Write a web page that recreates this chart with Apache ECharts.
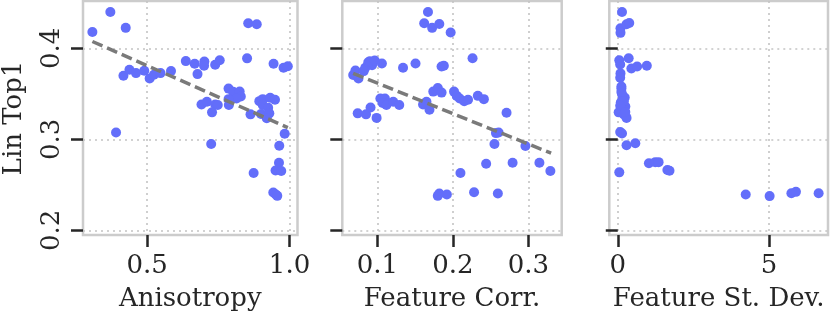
<!DOCTYPE html>
<html>
<head>
<meta charset="utf-8">
<script src="https://cdn.jsdelivr.net/npm/echarts@6/dist/echarts.min.js"></script>
<style>html,body{margin:0;padding:0;background:#fff;}#c{width:830px;height:317px;}</style>
</head>
<body>
<div id="c"></div>
<script>
const yTicks = [0.2, 0.3, 0.4];
const xTicksA = [0.5, 1.0];
const xTicksB = [0.1, 0.2, 0.3];
const xTicksC = [0, 5];
const axisNames = ['Anisotropy', 'Feature Corr.', 'Feature St. Dev.'];
const yName = 'Lin Top1';

const anisoX = [0.308,0.371,0.425,0.855,0.885,0.636,0.667,0.701,0.700,0.739,0.755,0.851,0.944,0.979,0.994,0.417,0.438,0.461,0.490,0.509,0.524,0.547,0.584,0.677,0.786,0.802,0.825,0.829,0.814,0.786,0.691,0.710,0.739,0.748,0.787,0.728,0.863,0.894,0.906,0.932,0.949,0.906,0.925,0.900,0.929,0.920,0.391,0.725,0.983,0.964,0.963,0.951,0.971,0.874,0.943,0.952,0.957];
const anisoY = [0.418,0.440,0.4225,0.4275,0.4264,0.386,0.383,0.3855,0.381,0.382,0.387,0.389,0.383,0.3786,0.3804,0.370,0.3764,0.3728,0.3754,0.367,0.371,0.3728,0.375,0.3717,0.3558,0.3522,0.3525,0.3471,0.3449,0.3442,0.3384,0.3413,0.3384,0.3377,0.3377,0.3297,0.3275,0.342,0.3442,0.3457,0.3435,0.3377,0.3348,0.3279,0.3286,0.3232,0.3076,0.2949,0.3062,0.2931,0.2743,0.2659,0.2652,0.263,0.2417,0.2395,0.238];

const corrX = [0.167,0.162,0.1725,0.182,0.197,0.226,0.068,0.071,0.075,0.082,0.084,0.088,0.093,0.090,0.0965,0.106,0.134,0.1505,0.185,0.188,0.074,0.085,0.091,0.099,0.104,0.110,0.107,0.112,0.121,0.129,0.174,0.180,0.185,0.1605,0.165,0.169,0.2015,0.205,0.209,0.215,0.220,0.233,0.241,0.271,0.257,0.2605,0.255,0.296,0.244,0.279,0.3145,0.329,0.210,0.180,0.182,0.192,0.228,0.2595];
const corrY = [0.4399,0.4275,0.4225,0.4268,0.4174,0.3891,0.3707,0.3757,0.367,0.375,0.3786,0.3848,0.3815,0.3859,0.3866,0.3833,0.3786,0.3833,0.3801,0.3808,0.3286,0.3275,0.3351,0.3236,0.3449,0.3449,0.3399,0.3377,0.3413,0.3377,0.3525,0.3565,0.3514,0.3384,0.3413,0.3326,0.3525,0.3478,0.3449,0.342,0.3435,0.3478,0.3442,0.3293,0.3069,0.3076,0.2949,0.2928,0.2732,0.2743,0.2743,0.2652,0.263,0.238,0.2406,0.2395,0.242,0.2406];

const stdX = [0.14,0.09,0.09,0.29,0.38,0.05,0.08,0.36,0.45,0.64,0.96,0.09,0.08,0.12,0.14,0.16,0.23,0.10,0.25,0.16,0.03,0.20,0.29,0.08,0.14,0.29,0.58,1.03,1.24,1.35,1.64,1.71,0.05,0.12,0.20,0.08,0.25,0.12,4.23,5.02,5.74,5.89,6.64];
const stdY = [0.4399,0.4221,0.417,0.4264,0.4279,0.387,0.3822,0.3891,0.3779,0.3801,0.3808,0.3725,0.3678,0.3558,0.3496,0.3442,0.346,0.3406,0.3362,0.3341,0.3297,0.3275,0.3236,0.308,0.3065,0.2935,0.2957,0.2739,0.275,0.275,0.2663,0.2656,0.2638,0.352,0.342,0.337,0.330,0.358,0.2395,0.2377,0.2409,0.2424,0.2409];

const fitAX = [0.308, 0.994], fitAY = [0.4075, 0.313];
const fitBX = [0.068, 0.330], fitBY = [0.3725, 0.2848];

const FONT = 'DejaVu Serif';
const TXT = '#262626';
const DOT = '#636EFA';
const FS = 26;
const zip = (a, b) => a.map((v, i) => [v, b[i]]);

const grids = [
  {left: 79, top: 1, width: 218.5, height: 236},
  {left: 342.3, top: 1, width: 219.4, height: 236},
  {left: 609.3, top: 1, width: 218.7, height: 236}
];
const xRanges = [[0.275, 1.028], [0.0536, 0.344], [-0.28, 6.95]];
const xTicks = [xTicksA, xTicksB, xTicksC];
const xFmt = [v => v.toFixed(1), v => v.toFixed(1), v => String(v)];

const gridLine = {show: true, lineStyle: {color: '#c4c4c4', width: 1.6, type: [2, 4]}};

const option = {
  animation: false,
  backgroundColor: '#fff',
  grid: grids.map(g => Object.assign({show: true, borderColor: '#cccccc', borderWidth: 2.5, backgroundColor: 'transparent'}, g)),
  xAxis: grids.map((g, i) => ({
    type: 'value', gridIndex: i, min: xRanges[i][0], max: xRanges[i][1],
    name: axisNames[i], nameLocation: 'middle', nameGap: 51,
    nameTextStyle: {fontFamily: FONT, fontSize: FS, color: TXT},
    axisLine: {show: false},
    axisTick: {show: true, length: 12, customValues: xTicks[i], lineStyle: {color: TXT, width: 2.5}},
    axisLabel: {customValues: xTicks[i], fontFamily: FONT, fontSize: FS, color: TXT, margin: 18, formatter: xFmt[i]},
    splitLine: gridLine
  })),
  yAxis: grids.map((g, i) => ({
    type: 'value', gridIndex: i, min: 0.195, max: 0.452,
    name: i === 0 ? yName : '', nameLocation: 'middle', nameGap: 56, nameRotate: 90,
    nameTextStyle: {fontFamily: FONT, fontSize: FS, color: TXT},
    axisLine: {show: false},
    axisTick: {show: true, length: 12, customValues: yTicks, lineStyle: {color: TXT, width: 2.5}},
    axisLabel: {show: i === 0, customValues: yTicks, rotate: 90, fontFamily: FONT, fontSize: FS, color: TXT, margin: 18, formatter: v => v.toFixed(1)},
    splitLine: gridLine
  })),
  series: [
    {type: 'scatter', xAxisIndex: 0, yAxisIndex: 0, data: zip(anisoX, anisoY), symbolSize: 10, itemStyle: {color: DOT, opacity: 1}},
    {type: 'scatter', xAxisIndex: 1, yAxisIndex: 1, data: zip(corrX, corrY), symbolSize: 10, itemStyle: {color: DOT, opacity: 1}},
    {type: 'scatter', xAxisIndex: 2, yAxisIndex: 2, data: zip(stdX, stdY), symbolSize: 10, itemStyle: {color: DOT, opacity: 1}},
    {type: 'line', xAxisIndex: 0, yAxisIndex: 0, data: zip(fitAX, fitAY), symbol: 'none', z: 3, lineStyle: {color: '#7a7a7a', width: 3.5, type: [11, 5]}},
    {type: 'line', xAxisIndex: 1, yAxisIndex: 1, data: zip(fitBX, fitBY), symbol: 'none', z: 3, lineStyle: {color: '#7a7a7a', width: 3.5, type: [11, 5]}}
  ]
};
const chart = echarts.init(document.getElementById('c'), null, {renderer: 'canvas'});
chart.setOption(option);
</script>
</body>
</html>
